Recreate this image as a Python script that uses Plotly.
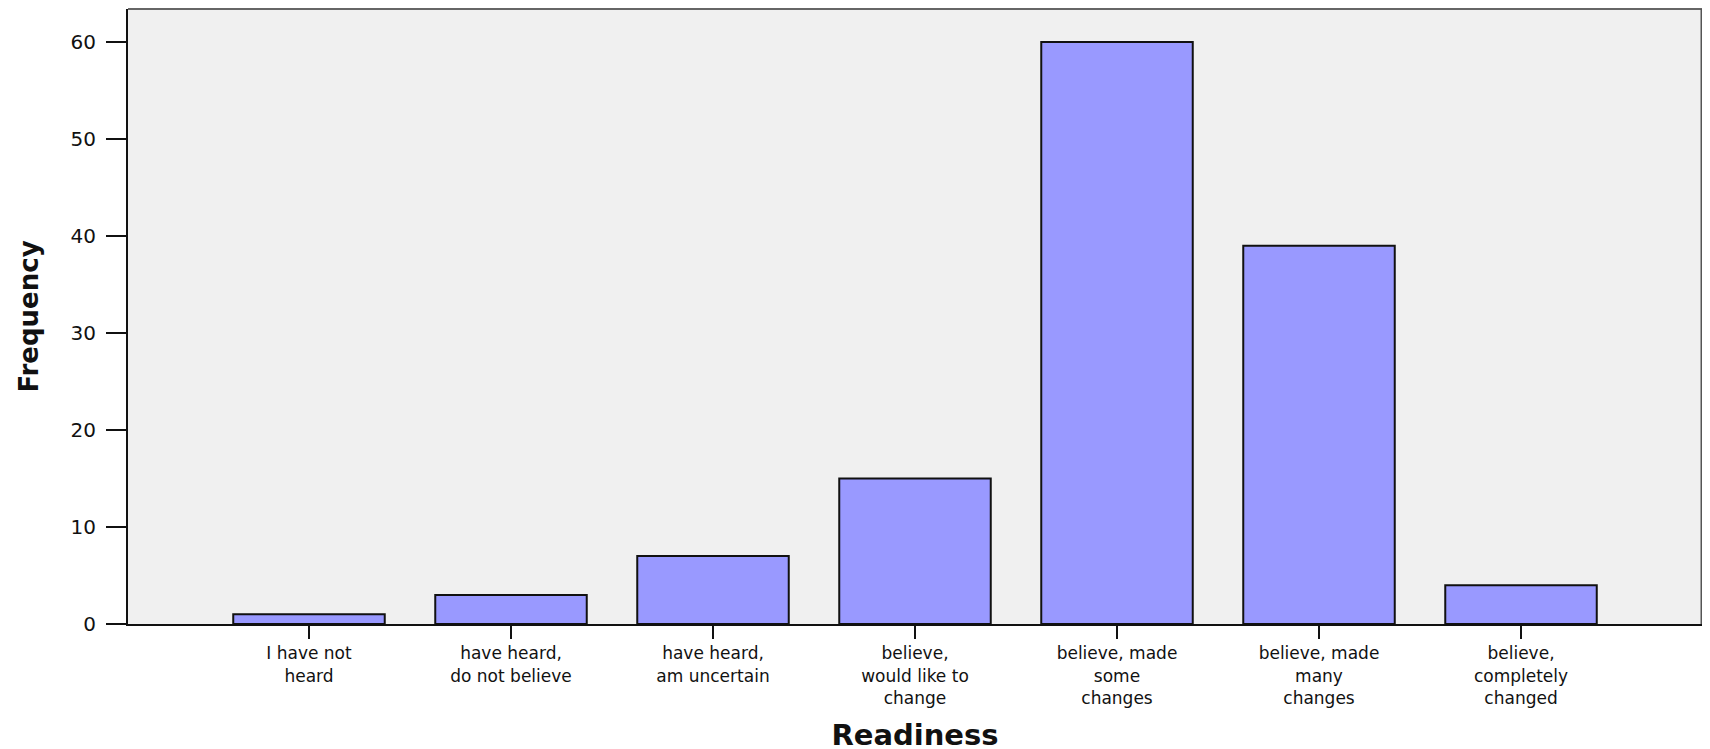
import plotly.graph_objects as go

categories = [
    "I have not<br>heard",
    "have heard,<br>do not believe",
    "have heard,<br>am uncertain",
    "believe,<br>would like to<br>change",
    "believe, made<br>some<br>changes",
    "believe, made<br>many<br>changes",
    "believe,<br>completely<br>changed",
]
frequency = [1, 3, 7, 15, 60, 39, 4]
y_ticks = [0, 10, 20, 30, 40, 50, 60]

x_pos = list(range(len(categories)))

fig = go.Figure()
fig.add_trace(go.Bar(
    x=x_pos,
    y=frequency,
    width=0.75,
    marker=dict(color="#9999FF", line=dict(color="#111111", width=2)),
    hoverinfo="skip",
))

fig.update_layout(
    width=1710,
    height=749,
    margin=dict(l=120, r=16, t=1, b=133),
    paper_bgcolor="white",
    plot_bgcolor="#F0F0F0",
    showlegend=False,
    font=dict(family="DejaVu Sans", color="#111111"),
    shapes=[
        dict(type="line", xref="paper", yref="paper", x0=0, x1=1, y0=1, y1=1,
             line=dict(color="#666666", width=2)),
        dict(type="line", xref="paper", yref="paper", x0=1, x1=1, y0=0, y1=1,
             line=dict(color="#555555", width=3)),
    ],
)

fig.update_xaxes(
    range=[-0.896, 6.896],
    tickmode="array",
    tickvals=x_pos,
    ticktext=categories,
    ticks="outside",
    ticklen=13,
    tickwidth=2,
    tickcolor="#111111",
    showline=True,
    linecolor="#111111",
    linewidth=2,
    showgrid=False,
    zeroline=False,
    tickfont=dict(family="DejaVu Sans", size=17, color="#111111"),
    title=dict(text="Readiness", standoff=18,
               font=dict(family="DejaVu Sans", size=29, color="#111111", weight="bold")),
)

fig.update_yaxes(
    range=[0, 63.4],
    tickmode="array",
    tickvals=y_ticks,
    ticks="outside",
    ticklen=20,
    tickwidth=2,
    tickcolor="#111111",
    ticklabelstandoff=6,
    showline=True,
    linecolor="#111111",
    linewidth=2,
    showgrid=False,
    zeroline=False,
    tickfont=dict(family="DejaVu Sans", size=20, color="#111111"),
    title=dict(text="Frequency", standoff=24,
               font=dict(family="DejaVu Sans", size=26, color="#111111", weight="bold")),
)

fig.write_html("out.html")
